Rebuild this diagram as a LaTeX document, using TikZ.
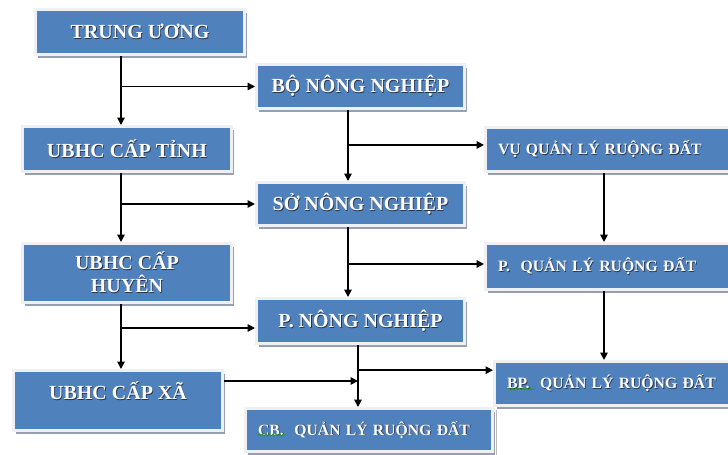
\documentclass[tikz,border=0pt]{standalone}
\usepackage{fontspec}
\setmainfont{Liberation Serif}
\usetikzlibrary{arrows.meta,shadows,decorations.pathmorphing}
\definecolor{boxblue}{RGB}{79,129,189}
\definecolor{boxrim}{RGB}{238,240,243}
\definecolor{boxshade}{RGB}{150,160,176}
\definecolor{txtshade}{RGB}{45,50,70}
\definecolor{spell}{RGB}{30,150,30}
% white lettering with a faint dark offset copy behind it
\newcommand\tsh[1]{\leavevmode\rlap{\kern0.6pt\raisebox{-0.6pt}{\textcolor{txtshade}{#1}}}\mbox{#1}}

\begin{document}
\begin{tikzpicture}[x=0.75pt,y=-0.75pt,
  box/.style={draw=boxrim, fill=boxblue, line width=2.25pt, text=white,
    font=\bfseries\fontsize{15}{17.25}\selectfont, inner sep=0pt,
    drop shadow={shadow xshift=2.2pt, shadow yshift=-2.6pt, fill=boxshade, opacity=1}},
  bigbox/.style={box, minimum width=156.75pt, minimum height=#1},
  midbox/.style={box, minimum width=156pt, minimum height=#1},
  sbox/.style={box, font=\bfseries\fontsize{11.8}{14}\selectfont, align=left, inner xsep=9.4pt},
  arr/.style={-{Triangle[length=5.5pt,width=5.5pt]}, line width=1.2pt, black},
  squiggle/.style={spell, line width=0.55pt, decorate,
    decoration={snake, amplitude=0.7pt, segment length=2.6pt}}]

\clip (0,0) rectangle (728,454);
\fill[white] (0,0) rectangle (728,454);

% left column
\node[bigbox=33.75pt] (tw) at (140,32) {\tsh{TRUNG ƯƠNG}};
\node[bigbox=33.75pt] (tinh) at (127,149) {\tsh{UBHC CẤP TỈNH}};
\node[bigbox=44.25pt, align=center] (huyen) at (127,273) {\tsh{UBHC CẤP}\\\tsh{HUYÊN}};
\node[bigbox=45pt, text depth=15pt] (xa) at (118,400.5) {\tsh{UBHC CẤP XÃ}};

% middle column
\node[midbox=33pt] (bo) at (360.5,86.5) {\tsh{BỘ NÔNG NGHIỆP}};
\node[midbox=32.25pt] (so) at (360.5,204) {\tsh{SỞ NÔNG NGHIỆP}};
\node[midbox=33.75pt] (pnn) at (360.5,321) {\tsh{P. NÔNG NGHIỆP}};
\node[sbox, minimum width=185.25pt, text width=166.45pt, minimum height=32.25pt] (cb) at (369,430)
  {\tsh{CB.\ \ QUẢN LÝ RUỘNG ĐẤT}};

% right column
\node[sbox, minimum width=195.75pt, text width=176.95pt, minimum height=33pt] (vu) at (616,149.5)
  {\tsh{VỤ QUẢN LÝ RUỘNG ĐẤT}};
\node[sbox, minimum width=195.75pt, text width=176.95pt, minimum height=34.5pt] (pql) at (616,266.5)
  {\tsh{P.\ \ QUẢN LÝ RUỘNG ĐẤT}};
\node[sbox, minimum width=192.75pt, text width=173.95pt, minimum height=33pt] (bp) at (623,383.5)
  {\tsh{BP.\ \ QUẢN LÝ RUỘNG ĐẤT}};

% spell-check marks under the abbreviations
\draw[squiggle] ([xshift=10.5pt,yshift=-3.75pt]cb.west) -- ++(27,0);
\draw[squiggle] ([xshift=11.25pt,yshift=-4.1pt]bp.west) -- ++(26,0);

% edge of the frame below BP
\coordinate (bot) at (0,460);
\coordinate (gl) at ([xshift=2.25pt,yshift=-2pt]bp.south west);
\draw[gray!55, line width=0.75pt] (gl) -- (gl |- bot);

% columns of the connector trunks
\coordinate (xl) at (121,0);
\coordinate (xm) at (348,0);
\coordinate (xn) at (358,0);
\coordinate (xr) at (604,0);
\coordinate (xj) at (0,381);

% arrow entry points
\coordinate (vuin) at ([yshift=3.4pt]vu.west);
\coordinate (pqlin) at ([yshift=1.9pt]pql.west);
\coordinate (pnnin) at ([yshift=-5.25pt]pnn.west);
\coordinate (bpin) at ([yshift=10pt]bp.west);

% left trunk
\draw[arr] (tw.south -| xl) -- (tinh.north -| xl);
\draw[arr] (xl |- bo.west) -- (bo.west);
\draw[arr] (tinh.south -| xl) -- (huyen.north -| xl);
\draw[arr] (xl |- so.west) -- (so.west);
\draw[arr] (huyen.south -| xl) -- (xa.north -| xl);
\draw[arr] (xl |- pnnin) -- (pnnin);

% middle trunk
\draw[arr] (bo.south -| xm) -- (so.north -| xm);
\draw[arr] (xm |- vuin) -- (vuin);
\draw[arr] (so.south -| xm) -- (pnn.north -| xm);
\draw[arr] (xm |- pqlin) -- (pqlin);
\draw[arr] (pnn.south -| xn) -- (cb.north -| xn);
\draw[arr] (xn |- bpin) -- (bpin);
\draw[arr] (xa.east |- xj) -- (xn |- xj);

% right trunk
\draw[arr] (vu.south -| xr) -- (pql.north -| xr);
\draw[arr] (pql.south -| xr) -- (bp.north -| xr);
\end{tikzpicture}
\end{document}
